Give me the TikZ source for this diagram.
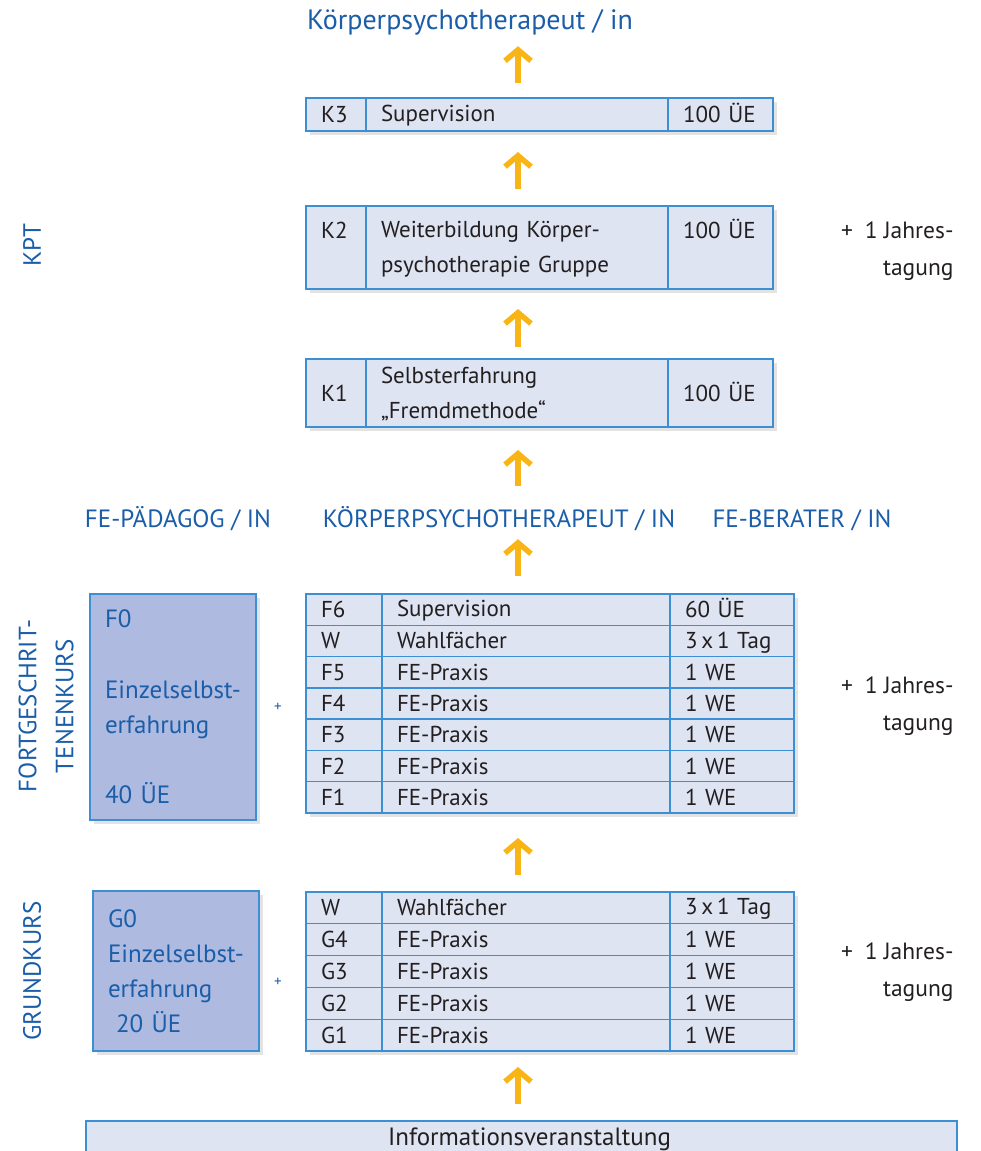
\documentclass[tikz,border=0pt]{standalone}
\usepackage{fontspec}
\setmainfont{PT Sans}
\usetikzlibrary{arrows.meta,shadows}

\definecolor{tblue}{HTML}{1A5DA8}
\definecolor{lineblue}{HTML}{3D8FD4}
\definecolor{cellfill}{HTML}{DEE4F2}
\definecolor{boxfill}{HTML}{AEBADF}
\definecolor{arrowc}{HTML}{F9B516}
\definecolor{textdark}{HTML}{231F20}

\newcommand\tabfont{\fontsize{23pt}{35pt}\selectfont}
\newcommand\titlefont{\fontsize{28pt}{34pt}\selectfont}
\newcommand\capfont{\fontsize{25pt}{37pt}\selectfont}
\newcommand\boxfont{\fontsize{25pt}{35pt}\selectfont}
\newcommand\notefont{\fontsize{23.5pt}{37pt}\selectfont}
\newcommand\cellstrut{\rule[-3pt]{0pt}{22pt}}

\tikzset{
  cell/.style={draw=lineblue, fill=cellfill, line width=1.3pt, anchor=north west, outer sep=0pt,
    inner xsep=15pt, inner ysep=0pt, align=left, text=textdark, font=\tabfont,
    execute at begin node=\cellstrut, execute at end node=\cellstrut},
  panel/.style={fill=cellfill, anchor=north west, outer sep=0pt, inner sep=0pt,
    drop shadow={shadow xshift=4pt, shadow yshift=-4pt, opacity=0.22}},
  ownbox/.style={draw=lineblue, fill=boxfill, line width=1.3pt, anchor=north west, outer sep=0pt,
    inner xsep=15pt, align=left, text=tblue, font=\boxfont,
    drop shadow={shadow xshift=4pt, shadow yshift=-4pt, opacity=0.22}},
  headline/.style={text=tblue, anchor=base, inner sep=0pt, text height=19pt, text depth=5pt, font=\capfont},
  sidelabel/.style={text=tblue, rotate=90, align=center, font=\capfont},
  extra/.style={text=textdark, align=right, anchor=east, font=\notefont},
  plus/.style={text=tblue, font=\fontsize{15pt}{15pt}\selectfont},
  uparrow/.style={draw=arrowc, line width=5.5pt, -{Straight Barb[length=11pt,width=26pt]}}
}

% one row of a course table: [name:height](x,y){code}{title}{amount}
\def\tabrow[#1:#2](#3,#4)#5#6#7{%
  \node[cell, text width=46pt, minimum height=#2] (#1a) at (#3,#4) {#5};
  \node[cell, text width=258pt, minimum height=#2] (#1b) at (#1a.north east) {#6};
  \node[cell, text width=94pt, minimum height=#2] (#1c) at (#1b.north east) {#7};}

\begin{document}
\begin{tikzpicture}[x=1pt, y=-1pt]
			%%%%% START %%%%%
			\useasboundingbox (0,0) rectangle (980,1151);
			\coordinate (axis) at (518,0);
			
			\node[headline, font=\titlefont, text height=22pt, text depth=7pt] (title) at (470,29) {Körperpsychotherapeut / in};
			
			% KPT
			\node[panel, minimum width=467pt, minimum height=33pt] (k3) at (306,98) {};
			\node[cell, text width=30pt, minimum height=33pt] (k3a) at (306,98) {K3};
			\node[cell, text width=272pt, minimum height=33pt] (k3b) at (k3a.north east) {Supervision};
			\node[cell, text width=75pt, minimum height=33pt] (k3c) at (k3b.north east) {100 ÜE};
			
			\node[panel, minimum width=467pt, minimum height=83pt] (k2) at (306,206) {};
			\node[cell, text width=30pt, minimum height=83pt] (k2a) at (306,206) {K2\\\phantom{K}};
			\node[cell, text width=272pt, minimum height=83pt] (k2b) at (k2a.north east) {Weiterbildung Körper-\\psychotherapie Gruppe};
			\node[cell, text width=75pt, minimum height=83pt] (k2c) at (k2b.north east) {100 ÜE\\\phantom{K}};
			
			\node[panel, minimum width=467pt, minimum height=68pt] (k1) at (306,359) {};
			\node[cell, text width=30pt, minimum height=68pt] (k1a) at (306,359) {K1};
			\node[cell, text width=272pt, minimum height=68pt] (k1b) at (k1a.north east) {Selbsterfahrung\\„Fremdmethode“};
			\node[cell, text width=75pt, minimum height=68pt] (k1c) at (k1b.north east) {100 ÜE};
			
			\node[extra] (kplus) at (957,251) {+\enspace 1 Jahres-\\tagung};
			\node[sidelabel] (kpt) at (32,245) {KPT};
			
			% degrees
			\node[headline] (ped) at (178,527) {FE-PÄDAGOG / IN};
			\node[headline] (mid) at (499,527) {KÖRPERPSYCHOTHERAPEUT / IN};
			\node[headline] (ber) at (802,527) {FE-BERATER / IN};
			
			% Fortgeschrittenenkurs
			\node[ownbox, text width=136pt, minimum height=226pt] (f0) at (90,594) {F0\\[36pt]Einzelselbst-\\erfahrung\\[35pt]40 ÜE};
			\node[plus] (fp) at (278,707) {+};
			\node[panel, minimum width=488pt, minimum height=219pt] (ftab) at (306,594) {};
			\tabrow[f6:31.29pt](306,594){F6}{Supervision}{60 ÜE}
			\tabrow[fw:31.29pt](306,625.29){W}{Wahlfächer}{3\,x\,1 Tag}
			\tabrow[f5:31.29pt](306,656.57){F5}{FE-Praxis}{1 WE}
			\tabrow[f4:31.29pt](306,687.86){F4}{FE-Praxis}{1 WE}
			\tabrow[f3:31.29pt](306,719.14){F3}{FE-Praxis}{1 WE}
			\tabrow[f2:31.29pt](306,750.43){F2}{FE-Praxis}{1 WE}
			\tabrow[f1:31.29pt](306,781.71){F1}{FE-Praxis}{1 WE}
			\node[extra] (fplus) at (957,706) {+\enspace 1 Jahres-\\tagung};
			\node[sidelabel] (fk) at (46,706) {FORTGESCHRIT-\\TENENKURS};
			
			% Grundkurs
			\node[ownbox, text width=136pt, minimum height=160pt] (g0) at (93,891) {G0\\Einzelselbst-\\erfahrung\\\hspace*{8pt}20 ÜE};
			\node[plus] (gp) at (278,982) {+};
			\node[panel, minimum width=488pt, minimum height=159pt] (gtab) at (306,892) {};
			\tabrow[gw:31.8pt](306,892){W}{Wahlfächer}{3\,x\,1 Tag}
			\tabrow[g4:31.8pt](306,923.8){G4}{FE-Praxis}{1 WE}
			\tabrow[g3:31.8pt](306,955.6){G3}{FE-Praxis}{1 WE}
			\tabrow[g2:31.8pt](306,987.4){G2}{FE-Praxis}{1 WE}
			\tabrow[g1:31.8pt](306,1019.2){G1}{FE-Praxis}{1 WE}
			\node[extra] (gplus) at (957,972) {+\enspace 1 Jahres-\\tagung};
			\node[sidelabel] (gk) at (32,971) {GRUNDKURS};
			
			\node[cell, font=\boxfont, align=center, inner sep=0pt, minimum width=871pt, minimum height=60pt, text height=18pt, text depth=30pt,
			  execute at begin node={}, execute at end node={}] (info) at (86,1121) {\hspace*{16pt}Informationsveranstaltung};
			
			% arrows
			\draw[uparrow, shorten <=15pt, shorten >=10pt] (k3.north -| axis) -- (title.south -| axis);
			\draw[uparrow, shorten <=17pt, shorten >=21pt] (k2.north -| axis) -- (k3.south -| axis);
			\draw[uparrow, shorten <=12pt, shorten >=20pt] (k1.north -| axis) -- (k2.south -| axis);
			\draw[uparrow, shorten <=22pt, shorten >=23pt] (mid.north -| axis) -- (k1.south -| axis);
			\draw[uparrow, shorten <=18pt, shorten >=7pt] (ftab.north -| axis) -- (mid.south -| axis);
			\draw[uparrow, shorten <=17pt, shorten >=25pt] (gtab.north -| axis) -- (ftab.south -| axis);
			\draw[uparrow, shorten <=17pt, shorten >=16pt] (info.north -| axis) -- (gtab.south -| axis);
			
			%%%%% END %%%%%
\end{tikzpicture}
\end{document}
